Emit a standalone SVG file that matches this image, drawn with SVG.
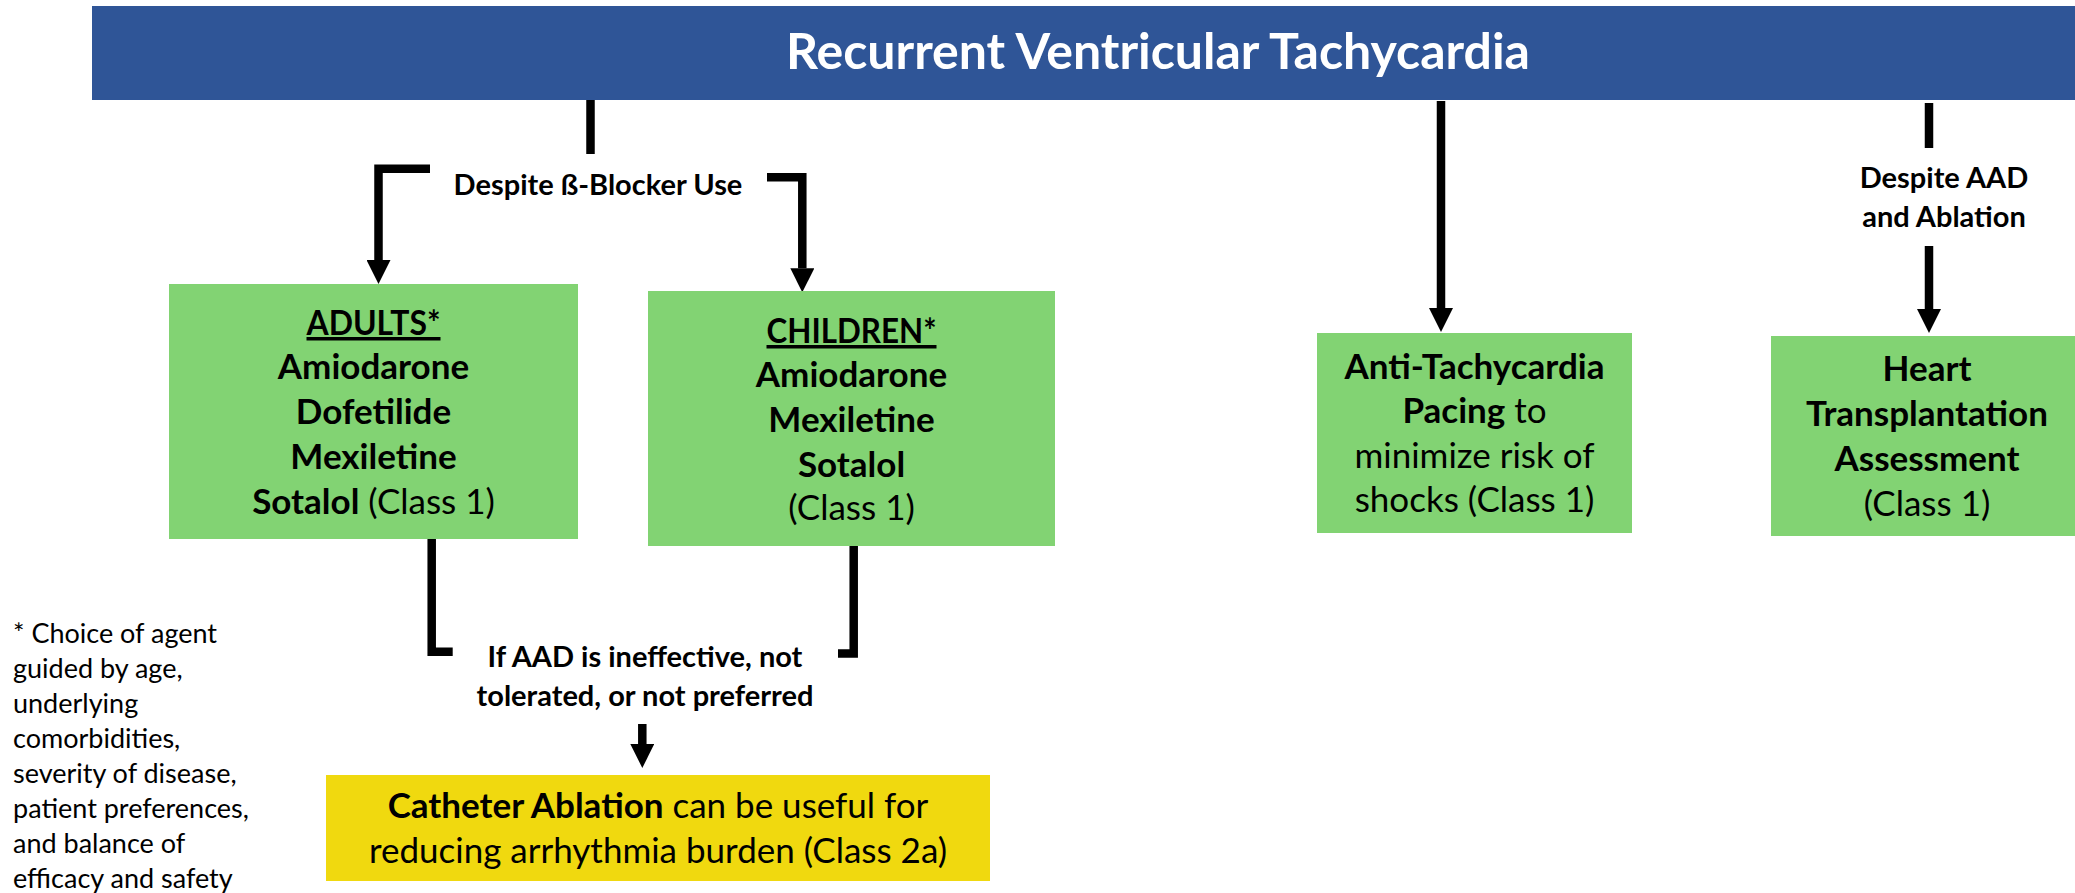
<svg xmlns="http://www.w3.org/2000/svg" width="2075" height="893" viewBox="0 0 2075 893">
  <style>
    text { font-family: Lato, "Open Sans", "Liberation Sans", sans-serif; fill: #000; }
    .title { font-size: 50px; font-weight: 700; fill: #fff; }
    .box-green { fill: #82D373; }
    .box-yellow { fill: #F0D90F; }
    .box-text { font-size: 35px; text-anchor: middle; }
    .label { font-size: 29px; font-weight: 700; text-anchor: middle; }
    .note { font-size: 27px; }
    .b { font-weight: 700; }
    .r { font-weight: 400; }
    .wire { fill: none; stroke: #000; stroke-width: 8.5; stroke-linejoin: miter; stroke-linecap: butt; }
  </style>
  <defs>
    <marker id="arrow" markerUnits="userSpaceOnUse" markerWidth="24" markerHeight="24" refX="0" refY="12" orient="auto" viewBox="0 0 24 24">
      <path d="M0,0 L24,12 L0,24 Z" fill="#000"/>
    </marker>
  </defs>

  <rect width="2075" height="893" fill="#fff"/>

  <!-- top banner -->
  <g id="header">
    <rect x="92" y="6" width="1983" height="94" fill="#2F5597"/>
    <text class="title" x="1158" y="69" text-anchor="middle">Recurrent Ventricular Tachycardia</text>
  </g>

  <!-- connectors and their labels -->
  <g id="connectors">
    <path class="wire" d="M590.5,100 V154"/>
    <path class="wire" d="M430,168.7 H378.5 V260" marker-end="url(#arrow)"/>
    <path class="wire" d="M767,177.3 H802.3 V268.3" marker-end="url(#arrow)"/>
    <text class="label" x="598" y="195">Despite ß-Blocker Use</text>

    <path class="wire" d="M431.7,539 V651.7 H452.7"/>
    <path class="wire" d="M853.7,546 V653.5 H838"/>
    <text class="label" x="645" y="667">If AAD is ineffective, not</text>
    <text class="label" x="645" y="706">tolerated, or not preferred</text>
    <path class="wire" d="M642.3,724 V744" marker-end="url(#arrow)"/>

    <path class="wire" d="M1441,101 V308" marker-end="url(#arrow)"/>

    <path class="wire" d="M1929,103 V148"/>
    <text class="label" x="1944" y="188">Despite AAD</text>
    <text class="label" x="1944" y="227">and Ablation</text>
    <path class="wire" d="M1929,246 V309" marker-end="url(#arrow)"/>
  </g>

  <!-- adult drug options -->
  <g id="adults">
    <rect class="box-green" x="169" y="284" width="409" height="255"/>
    <text class="box-text b" x="373.5" y="335" text-decoration="underline" textLength="134" lengthAdjust="spacingAndGlyphs">ADULTS*</text>
    <text class="box-text b" x="373.5" y="379">Amiodarone</text>
    <text class="box-text b" x="373.5" y="424">Dofetilide</text>
    <text class="box-text b" x="373.5" y="469">Mexiletine</text>
    <text class="box-text" x="373.5" y="514"><tspan class="b">Sotalol</tspan> (Class 1)</text>
  </g>

  <!-- pediatric drug options -->
  <g id="children">
    <rect class="box-green" x="648" y="291" width="407" height="255"/>
    <text class="box-text b" x="851.5" y="343" text-decoration="underline" textLength="170" lengthAdjust="spacingAndGlyphs">CHILDREN*</text>
    <text class="box-text b" x="851.5" y="387">Amiodarone</text>
    <text class="box-text b" x="851.5" y="432">Mexiletine</text>
    <text class="box-text b" x="851.5" y="477">Sotalol</text>
    <text class="box-text" x="851.5" y="520">(Class 1)</text>
  </g>

  <!-- pacing -->
  <g id="atp">
    <rect class="box-green" x="1317" y="333" width="315" height="200"/>
    <text class="box-text b" x="1474.5" y="379">Anti-Tachycardia</text>
    <text class="box-text" x="1474.5" y="423"><tspan class="b">Pacing</tspan> to</text>
    <text class="box-text" x="1474.5" y="468">minimize risk of</text>
    <text class="box-text" x="1474.5" y="512">shocks (Class 1)</text>
  </g>

  <!-- transplant -->
  <g id="transplant">
    <rect class="box-green" x="1771" y="336" width="304" height="200"/>
    <text class="box-text b" x="1927" y="381">Heart</text>
    <text class="box-text b" x="1927" y="426">Transplantation</text>
    <text class="box-text b" x="1927" y="471">Assessment</text>
    <text class="box-text" x="1927" y="516">(Class 1)</text>
  </g>

  <!-- ablation -->
  <g id="ablation">
    <rect class="box-yellow" x="326" y="775" width="664" height="106"/>
    <text class="box-text" x="658" y="818"><tspan class="b">Catheter Ablation</tspan> can be useful for</text>
    <text class="box-text" x="658" y="863">reducing arrhythmia burden (Class 2a)</text>
  </g>

  <!-- footnote -->
  <g id="footnote">
    <text class="note" x="13" y="643">* Choice of agent</text>
    <text class="note" x="13" y="678">guided by age,</text>
    <text class="note" x="13" y="713">underlying</text>
    <text class="note" x="13" y="748">comorbidities,</text>
    <text class="note" x="13" y="783">severity of disease,</text>
    <text class="note" x="13" y="818">patient preferences,</text>
    <text class="note" x="13" y="853">and balance of</text>
    <text class="note" x="13" y="888">efficacy and safety</text>
  </g>
</svg>
